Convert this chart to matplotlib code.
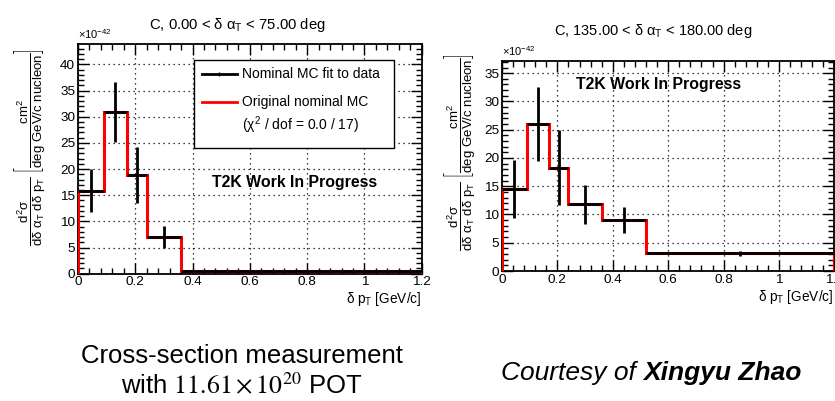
import numpy as np
import matplotlib
matplotlib.use("Agg")
import matplotlib.pyplot as plt
from matplotlib.ticker import MultipleLocator
from matplotlib.lines import Line2D
from matplotlib.patches import Rectangle

plt.rcParams['font.family'] = ['Liberation Sans', 'DejaVu Sans']
plt.rcParams['mathtext.fontset'] = 'custom'
plt.rcParams['mathtext.rm'] = 'Liberation Sans'
plt.rcParams['mathtext.it'] = 'Liberation Sans'
plt.rcParams['mathtext.bf'] = 'Liberation Sans:bold'

# ---- data (x1e-42 cm^2 / deg GeV/c nucleon) ----
bin_edges_left = [0.0, 0.09, 0.17, 0.24, 0.36, 0.52, 1.2]
fit_left = [15.9, 30.9, 18.9, 7.0, 0.5, 0.5]
err_left = [4.2, 5.7, 5.3, 2.1, 0.0, 0.0]
nominal_left = [15.9, 30.9, 18.9, 7.0, 0.5, 0.5]

bin_edges_right = [0.0, 0.09, 0.17, 0.24, 0.36, 0.52, 1.2]
fit_right = [14.5, 26.0, 18.3, 11.8, 9.0, 3.1]
err_right = [5.1, 6.5, 6.7, 3.4, 2.3, 0.5]
nominal_right = [14.5, 26.0, 18.3, 11.8, 9.0, 3.1]

title_left = r'C, 0.00 < $\delta\ \alpha_{T}$ < 75.00 deg'
title_right = r'C, 135.00 < $\delta\ \alpha_{T}$ < 180.00 deg'
xlabel = r'$\delta\ p_{T}$ [GeV/c]'
ylabel = (r'$\dfrac{d^{2}\sigma}{d\delta\ \alpha_{T}\ d\delta\ p_{T}}\ '
          r'\left[\dfrac{cm^{2}}{deg\ GeV/c\ nucleon}\right]$')

W, H = 835, 401
fig = plt.figure(figsize=(W / 100, H / 100), dpi=100)


def px_axes(x0, y0, x1, y1):
    return fig.add_axes([x0 / W, 1 - y1 / H, (x1 - x0) / W, (y1 - y0) / H])


def draw_panel(ax, edges, fit, err, nominal, ymax):
    edges = np.asarray(edges)
    centers = 0.5 * (edges[:-1] + edges[1:])
    ax.stairs(nominal, edges, color='#ff0000', lw=2.2, zorder=3)
    ax.hlines(fit, edges[:-1], edges[1:], color='black', lw=2.0, zorder=4)
    ax.vlines(centers, np.array(fit) - np.array(err), np.array(fit) + np.array(err),
              color='black', lw=2.0, zorder=4)
    ax.set_xlim(0, 1.2)
    ax.set_ylim(0, ymax)
    ax.xaxis.set_major_locator(MultipleLocator(0.2))
    ax.xaxis.set_minor_locator(MultipleLocator(0.04))
    ax.yaxis.set_major_locator(MultipleLocator(5))
    ax.yaxis.set_minor_locator(MultipleLocator(1))
    ax.xaxis.set_major_formatter(plt.FuncFormatter(lambda v, p: ('%g' % round(v, 2))))
    ax.tick_params(which='both', direction='in', top=True, right=True,
                   labelsize=9.7, width=1.0, pad=2)
    ax.tick_params(which='major', length=8)
    ax.tick_params(which='minor', length=4)
    ax.grid(True, which='major', color='black', ls=(0, (1, 3)), lw=0.9)
    for s in ax.spines.values():
        s.set_linewidth(1.3)
    ax.text(0.0, 1.015, r'$\times10^{-42}$', transform=ax.transAxes,
            fontsize=8, ha='left', va='bottom')


axL = px_axes(78, 44, 421.7, 273.7)
draw_panel(axL, bin_edges_left, fit_left, err_left, nominal_left, 43.9)
axR = px_axes(502, 61.3, 834.4, 271)
draw_panel(axR, bin_edges_right, fit_right, err_right, nominal_right, 37.1)

# titles
fig.text(237.5 / W, 1 - 25 / H, title_left, ha='center', va='center', fontsize=10.7)
fig.text(653 / W, 1 - 31.5 / H, title_right, ha='center', va='center', fontsize=10.5)

# x labels
fig.text(421.7 / W, 1 - 299.5 / H, xlabel, ha='right', va='center', fontsize=9.8)
fig.text(833 / W, 1 - 296.5 / H, xlabel, ha='right', va='center', fontsize=9.8)

# y labels
fig.text(30 / W, 1 - 147 / H, ylabel, rotation=90, ha='center', va='center', fontsize=9.5)
fig.text((430 + 30) / W, 1 - 152 / H, ylabel, rotation=90, ha='center', va='center', fontsize=9.5)

# work in progress
axL.text((212 - 78) / 343.7, (273.7 - 183) / 229.7, 'T2K Work In Progress',
         transform=axL.transAxes, fontsize=11.4, fontweight='bold', ha='left', va='center', zorder=6)
axR.text((575.7 - 502) / 332.4, (271 - 85) / 209.7, 'T2K Work In Progress',
         transform=axR.transAxes, fontsize=11.4, fontweight='bold', ha='left', va='center', zorder=6)


# legend (left panel)
def ax_xy(px, py):
    return (px - 78) / 343.7, (273.7 - py) / 229.7


bx0, by0 = ax_xy(194.3, 148)
bx1, by1 = ax_xy(394.3, 60)
axL.add_patch(Rectangle((bx0, by0), bx1 - bx0, by1 - by0, transform=axL.transAxes,
                        facecolor='white', edgecolor='black', lw=1.0, zorder=7))
lx0, ly = ax_xy(201.7, 74)
lx1, _ = ax_xy(236.7, 74)
axL.add_line(Line2D([lx0, lx1], [ly, ly], color='black', lw=2.0, transform=axL.transAxes, zorder=8))
axL.add_line(Line2D([(lx0 + lx1) / 2], [ly], color='black', marker='|', ms=3, mew=1.0,
                    transform=axL.transAxes, zorder=8))
tx, _ = ax_xy(241.7, 74)
axL.text(tx, ly, 'Nominal MC fit to data', transform=axL.transAxes, fontsize=10,
         ha='left', va='center', zorder=8)
_, ly2 = ax_xy(0, 101.7)
axL.add_line(Line2D([lx0, lx1], [ly2, ly2], color='#ff0000', lw=2.0, transform=axL.transAxes, zorder=8))
axL.text(tx, ly2, 'Original nominal MC', transform=axL.transAxes, fontsize=10,
         ha='left', va='center', zorder=8)
_, ly3 = ax_xy(0, 125.7)
axL.text(tx, ly3, r'($\chi^{2}$ / dof = 0.0 / 17)', transform=axL.transAxes, fontsize=10,
         ha='left', va='center', zorder=8)

# bottom captions
fig.text(241.7 / W, 1 - 356 / H, 'Cross-section measurement', ha='center', va='center',
         fontsize=18.5)
fig.text(241.7 / W, 1 - 386 / H, r'with $11.61\times10^{20}$ POT', ha='center', va='center',
         fontsize=18.5, math_fontfamily='stix')

renderer = fig.canvas.get_renderer()
t1 = fig.text(0, 1 - 373 / H, 'Courtesy of ', ha='left', va='center', fontsize=19, style='italic')
t2 = fig.text(0, 1 - 373 / H, 'Xingyu Zhao', ha='left', va='center', fontsize=19,
              style='italic', fontweight='bold')
w1 = t1.get_window_extent(renderer).width
w2 = t2.get_window_extent(renderer).width
start = 651 - (w1 + w2) / 2
t1.set_x(start / W)
t2.set_x((start + w1) / W)

fig.savefig('out.png', dpi=100)
